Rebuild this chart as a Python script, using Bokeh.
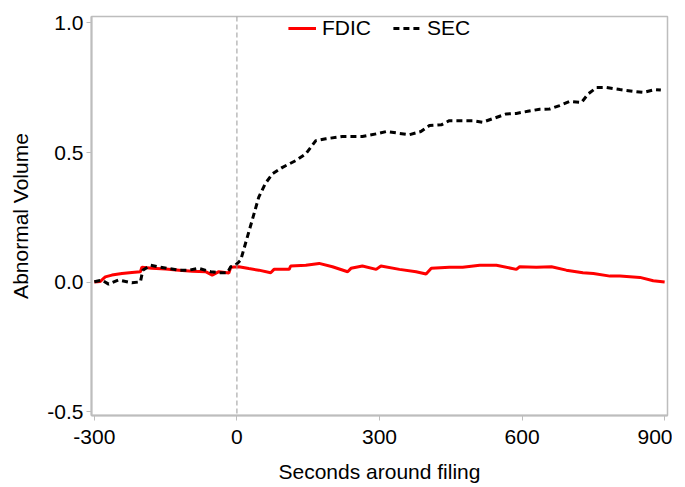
from bokeh.plotting import figure
from bokeh.models import FixedTicker, PrintfTickFormatter, Span, Range1d, Legend, LegendItem
from bokeh.embed import file_html
from bokeh.resources import INLINE

# FDIC abnormal volume
fdic_x = [-300, -288, -277, -263, -242, -221, -203, -200, -179, -150, -122, -94, -66, -52, -38, -17, -13,
          4, 25, 46, 71, 78, 110, 113, 145, 173, 201, 233, 240, 264, 293, 303, 342, 377, 398, 409,
          447, 475, 511, 546, 588, 595, 630, 662, 693, 728, 750, 785, 806, 848, 876, 900]
fdic_y = [0.0, 0.002, 0.02, 0.027, 0.033, 0.037, 0.04, 0.057, 0.053, 0.05, 0.046, 0.042, 0.04, 0.027, 0.04, 0.035, 0.057,
          0.059, 0.052, 0.046, 0.036, 0.049, 0.049, 0.062, 0.065, 0.072, 0.059, 0.04, 0.053, 0.062, 0.049, 0.062, 0.049, 0.04, 0.031, 0.053,
          0.057, 0.057, 0.065, 0.065, 0.049, 0.059, 0.057, 0.059, 0.046, 0.036, 0.033, 0.023, 0.023, 0.018, 0.005, 0.0]

# SEC abnormal volume
sec_x = [-300, -284, -270, -249, -221, -203, -198, -182, -165, -147, -122, -101, -80, -55, -38, -20, -13, -3,
         8, 18, 32, 46, 60, 75, 96, 124, 145, 166, 187, 222, 264, 293, 314, 342, 363, 387, 405, 430, 447, 472,
         496, 517, 542, 567, 588, 612, 637, 658, 679, 700, 725, 739, 757, 778, 806, 834, 855, 880, 892]
sec_y = [0.001, 0.008, -0.008, 0.008, -0.003, 0.001, 0.046, 0.065, 0.059, 0.053, 0.046, 0.046, 0.053, 0.04, 0.036, 0.036, 0.059, 0.065,
         0.085, 0.149, 0.238, 0.328, 0.381, 0.418, 0.443, 0.469, 0.495, 0.546, 0.553, 0.562, 0.562, 0.572, 0.581, 0.574, 0.569, 0.581, 0.604, 0.607, 0.623, 0.623,
         0.623, 0.617, 0.633, 0.649, 0.651, 0.659, 0.667, 0.668, 0.681, 0.697, 0.693, 0.726, 0.751, 0.751, 0.743, 0.736, 0.732, 0.743, 0.741]

x_ticks = [-300, 0, 300, 600, 900]
y_ticks = [-0.5, 0.0, 0.5, 1.0]

FONT = "Liberation Sans"
GRAY = "#bdbdbd"
FS = "21px"

p = figure(width=672, height=485, output_backend="svg", toolbar_location=None,
           x_range=Range1d(-306, 906), y_range=Range1d(-0.515, 1.025),
           min_border_left=91, min_border_right=5, min_border_top=16, min_border_bottom=69)

p.xgrid.visible = False
p.ygrid.visible = False
p.outline_line_color = GRAY
p.outline_line_width = 1.5

for ax in (p.xaxis[0], p.yaxis[0]):
    ax.axis_line_color = GRAY
    ax.axis_line_width = 2
    ax.major_tick_line_color = GRAY
    ax.minor_tick_line_color = None
    ax.major_tick_in = 0
    ax.major_tick_out = 5
    ax.major_label_text_font = FONT
    ax.major_label_text_font_size = FS
    ax.major_label_text_color = "black"
    ax.axis_label_text_font = FONT
    ax.axis_label_text_font_size = FS
    ax.axis_label_text_font_style = "normal"
    ax.axis_label_text_color = "black"

p.xaxis.ticker = FixedTicker(ticks=x_ticks)
p.yaxis.ticker = FixedTicker(ticks=y_ticks)
p.yaxis.formatter = PrintfTickFormatter(format="%.1f")
p.xaxis.formatter = PrintfTickFormatter(format="%d")
p.xaxis.axis_label = "Seconds around filing"
p.yaxis.axis_label = "Abnormal Volume"
p.xaxis.major_label_standoff = 9
p.xaxis.axis_label_standoff = 13
p.yaxis.major_label_standoff = 3
p.yaxis.axis_label_standoff = 12

p.add_layout(Span(location=0, dimension="height", line_color="#999999", line_width=1, line_dash="5 3"))

r1 = p.line(fdic_x, fdic_y, line_color="red", line_width=3)
r2 = p.line(sec_x, sec_y, line_color="black", line_width=3, line_dash="6 4")

legend = Legend(items=[LegendItem(label="FDIC", renderers=[r1]), LegendItem(label="SEC", renderers=[r2])],
                location="top_center", orientation="horizontal",
                label_text_font=FONT, label_text_font_size=FS, label_text_color="black",
                glyph_width=28, spacing=22, label_standoff=6,
                border_line_color=None, background_fill_alpha=0, margin=0, padding=5)
p.add_layout(legend)

open("out.html", "w").write(file_html(p, INLINE))
